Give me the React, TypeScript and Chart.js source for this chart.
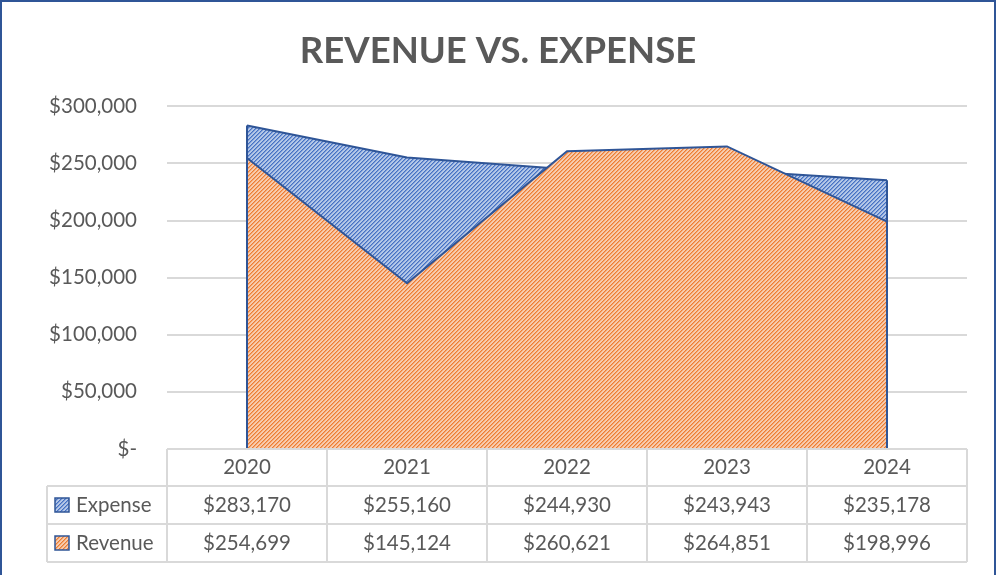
import { useEffect, useRef } from "react";
import { Chart, registerables } from "chart.js";

Chart.register(...registerables);

const years = ["2020", "2021", "2022", "2023", "2024"];
const seriesNames = ["Expense", "Revenue"];
const expense = [283170, 255160, 244930, 243943, 235178];
const revenue = [254699, 145124, 260621, 264851, 198996];
const yMin = 0;
const yMax = 300000;
const yStep = 50000;

const TEXT = "#595959";
const GRID = "#D9D9D9";
const LINE = "#2F5597";
const FONT = "Lato, 'Open Sans', sans-serif";

function fmtMoney(v: number): string {
  if (v === 0) return "$-";
  return "$" + v.toLocaleString("en-US");
}

function makePattern(ctx: CanvasRenderingContext2D, bg: string, fg: string, mid: string): CanvasPattern {
  const c = document.createElement("canvas");
  c.width = 4;
  c.height = 4;
  const g = c.getContext("2d")!;
  g.fillStyle = bg;
  g.fillRect(0, 0, 4, 4);
  for (let i = 0; i < 4; i++) {
    g.fillStyle = fg;
    g.fillRect(3 - i, i, 1, 1);
    g.fillStyle = mid;
    g.fillRect((4 - i) % 4, i, 1, 1);
  }
  return ctx.createPattern(c, "repeat")!;
}

const framePlugin = {
  id: "frame",
  afterDraw(chart: any) {
    const ctx = chart.ctx;
    ctx.save();
    ctx.strokeStyle = LINE;
    ctx.lineWidth = 2;
    ctx.strokeRect(1, 1, 994, 600);
    ctx.restore();
  },
};

const edgePlugin = {
  id: "areaEdges",
  afterDatasetsDraw(chart: any) {
    const ctx = chart.ctx;
    const ys = chart.scales.y;
    const y0 = ys.getPixelForValue(0);
    ctx.save();
    chart.data.datasets.forEach((ds: any, i: number) => {
      const meta = chart.getDatasetMeta(i);
      if (!meta.data.length) return;
      const pts = [meta.data[0], meta.data[meta.data.length - 1]];
      ctx.strokeStyle = ds.borderColor;
      ctx.lineWidth = ds.borderWidth;
      pts.forEach((p: any) => {
        ctx.beginPath();
        ctx.moveTo(p.x, p.y);
        ctx.lineTo(p.x, y0);
        ctx.stroke();
      });
    });
    ctx.restore();
  },
};

const tablePlugin = {
  id: "dataTable",
  afterDraw(chart: any) {
    const ctx = chart.ctx;
    const xs = chart.scales.x;
    const area = chart.chartArea;
    const n = years.length;
    const half = (xs.getPixelForValue(1) - xs.getPixelForValue(0)) / 2;
    const left = xs.getPixelForValue(0) - half;
    const right = xs.getPixelForValue(n - 1) + half;
    const legendLeft = 47;
    const y0 = area.bottom;
    const y1 = y0 + 37;
    const y2 = y1 + 38;
    const y3 = y2 + 38;
    const line = (ax: number, ay: number, bx: number, by: number) => {
      ctx.beginPath();
      ctx.moveTo(ax, ay);
      ctx.lineTo(bx, by);
      ctx.stroke();
    };
    ctx.save();
    ctx.strokeStyle = GRID;
    ctx.lineWidth = 2;
    line(left, y0, right, y0);
    line(legendLeft, y1, right, y1);
    line(legendLeft, y2, right, y2);
    line(legendLeft, y3, right, y3);
    line(legendLeft, y1, legendLeft, y3);
    for (let i = 0; i < n; i++) {
      const x = xs.getPixelForValue(i) - half;
      line(x, y0, x, y3);
    }
    line(right, y0, right, y3);

    ctx.fillStyle = TEXT;
    ctx.font = `20.5px ${FONT}`;
    ctx.textAlign = "center";
    ctx.textBaseline = "middle";
    const rows = [(y1 + y2) / 2, (y2 + y3) / 2];
    years.forEach((yr, i) => {
      const x = xs.getPixelForValue(i);
      ctx.fillText(yr, x, (y0 + y1) / 2);
    });
    chart.data.datasets.forEach((ds: any, r: number) => {
      ds.data.forEach((v: number, i: number) => {
        ctx.fillText(fmtMoney(v), xs.getPixelForValue(i), rows[r]);
      });
    });
    // legend keys
    chart.data.datasets.forEach((ds: any, r: number) => {
      const cy = rows[r];
      ctx.fillStyle = ds.backgroundColor;
      ctx.fillRect(55, cy - 7, 14, 14);
      ctx.strokeStyle = LINE;
      ctx.lineWidth = 1.5;
      ctx.strokeRect(55, cy - 7, 14, 14);
      ctx.fillStyle = TEXT;
      ctx.textAlign = "left";
      ctx.fillText(ds.label, 76, cy);
    });
    ctx.restore();
  },
};

export default function App() {
  const ref = useRef<HTMLCanvasElement | null>(null);
  useEffect(() => {
    const canvas = ref.current!;
    const ctx = canvas.getContext("2d")!;
    const expPattern = makePattern(ctx, "#B4C7E7", "#4472C4", "#7C9AD5");
    const revPattern = makePattern(ctx, "#F8CBAD", "#ED7D31", "#F2A46F");
    const chart = new Chart(canvas, {
      type: "line",
      data: {
        labels: years,
        datasets: [
          {
            label: seriesNames[0],
            data: expense,
            backgroundColor: expPattern as any,
            borderColor: LINE,
            borderWidth: 2,
            fill: "origin",
            pointRadius: 0,
            tension: 0,
            order: 2,
          },
          {
            label: seriesNames[1],
            data: revenue,
            backgroundColor: revPattern as any,
            borderColor: LINE,
            borderWidth: 2,
            fill: "origin",
            pointRadius: 0,
            tension: 0,
            order: 1,
          },
        ],
      },
      options: {
        animation: false,
        responsive: false,
        devicePixelRatio: 1,
        layout: { padding: { left: 29, right: 29, top: 0, bottom: 126 } },
        plugins: {
          legend: { display: false },
          tooltip: { enabled: false },
          title: {
            display: true,
            text: "REVENUE VS. EXPENSE",
            color: TEXT,
            font: { family: FONT, size: 36.5, weight: "bold" },
            padding: { top: 29, bottom: 33.5 },
          },
        },
        scales: {
          x: {
            type: "category",
            display: false,
            offset: true,
          },
          y: {
            min: yMin,
            max: yMax,
            afterFit(scale: any) {
              scale.width = 138;
            },
            border: { display: false },
            grid: { color: GRID, lineWidth: 2, drawTicks: false },
            ticks: {
              stepSize: yStep,
              padding: 30,
              color: TEXT,
              font: { family: FONT, size: 20.5 },
              callback: (v: any) => fmtMoney(Number(v)),
            },
          },
        },
      },
      plugins: [edgePlugin, tablePlugin, framePlugin],
    });
    return () => chart.destroy();
  }, []);
  return (
    <div style={{ position: "fixed", left: 0, top: 0, width: 996, height: 575, background: "#fff" }}>
      <canvas ref={ref} width={996} height={575} style={{ display: "block" }} />
    </div>
  );
}
